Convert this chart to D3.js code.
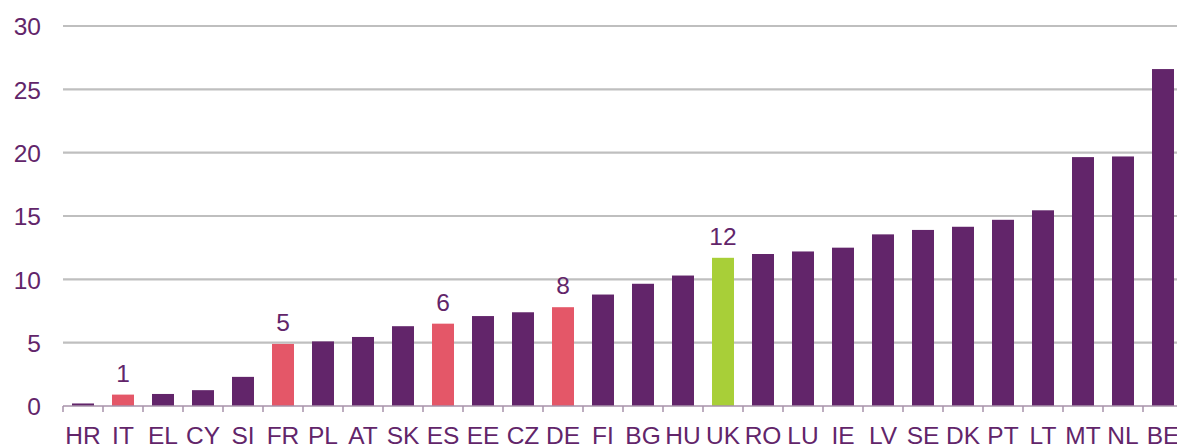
<!DOCTYPE html>
<html>
<head>
<meta charset="utf-8">
<script src="https://cdn.jsdelivr.net/npm/d3@7"></script>
<style>
  body { margin: 0; background: #fff; }
  .chart { width: 1177px; height: 445px; overflow: hidden; }
  text { font-family: "Liberation Sans", Arial, sans-serif; fill: #62256a; }
</style>
</head>
<body>
<div class="chart"></div>
<script>
const countries = ['HR', 'IT', 'EL', 'CY', 'SI', 'FR', 'PL', 'AT', 'SK', 'ES', 'EE', 'CZ', 'DE', 'FI',
    'BG', 'HU', 'UK', 'RO', 'LU', 'IE', 'LV', 'SE', 'DK', 'PT', 'LT', 'MT', 'NL', 'BE'];
const values = [0.2, 0.9, 0.95, 1.25, 2.3, 4.9, 5.1, 5.45, 6.3, 6.5, 7.1, 7.4, 7.8, 8.8,
    9.65, 10.3, 11.7, 12.0, 12.2, 12.5, 13.55, 13.9, 14.15, 14.7, 15.45, 19.65, 19.7, 26.6];
// pays mis en évidence et leur étiquette
const highlights = { IT: '1', FR: '5', ES: '6', DE: '8', UK: '12' };
const yTicks = [0, 5, 10, 15, 20, 25, 30];

const width = 1177;
const height = 445;
const margin = { left: 63, top: 26, bottom: 39 };
const fontSize = 24.5;

const purple = '#62256a';
const red = '#e45768';
const green = '#a8cf38';

const svg = d3.select('.chart')
    .append('svg')
    .attr('width', width)
    .attr('height', height);

const xScale = d3.scaleBand()
    .domain(countries)
    .range([margin.left, margin.left + countries.length * 40])
    .paddingInner(0.45)
    .paddingOuter(0.225);

const yScale = d3.scaleLinear()
    .domain([0, 30])
    .range([height - margin.bottom, margin.top]);

// lignes de grille
svg.append('g')
    .selectAll('line')
    .data(yTicks.slice(1))
    .enter()
    .append('line')
    .attr('x1', margin.left)
    .attr('x2', width)
    .attr('y1', d => yScale(d))
    .attr('y2', d => yScale(d))
    .attr('stroke', '#bfbfbf')
    .attr('stroke-width', 2.2);

// axe vertical, sans ligne
const yAxis = d3.axisLeft(yScale)
    .tickValues(yTicks)
    .tickSize(0)
    .tickPadding(0);

svg.append('g')
    .attr('transform', `translate(41, 0)`)
    .call(yAxis)
    .call(g => g.select('.domain').remove())
    .call(g => g.selectAll('text')
        .attr('font-size', fontSize)
        .attr('dy', '0.36em')
        .style('font-family', '"Liberation Sans", Arial, sans-serif')
        .attr('fill', purple));

// barres
svg.append('g')
    .selectAll('rect')
    .data(countries)
    .enter()
    .append('rect')
    .attr('x', d => xScale(d))
    .attr('y', (d, i) => yScale(values[i]))
    .attr('width', xScale.bandwidth())
    .attr('height', (d, i) => yScale(0) - yScale(values[i]))
    .attr('fill', d => d === 'UK' ? green : (highlights[d] ? red : purple));

// étiquettes de valeur
svg.append('g')
    .selectAll('text')
    .data(countries.filter(d => highlights[d]))
    .enter()
    .append('text')
    .attr('x', d => xScale(d) + xScale.bandwidth() / 2)
    .attr('y', d => yScale(values[countries.indexOf(d)]) - 13)
    .attr('text-anchor', 'middle')
    .attr('font-size', fontSize)
    .text(d => highlights[d]);

// axe horizontal avec petits traits entre les catégories
const y0 = yScale(0);
svg.append('line')
    .attr('x1', margin.left)
    .attr('x2', width)
    .attr('y1', y0)
    .attr('y2', y0)
    .attr('stroke', '#a792aa')
    .attr('stroke-width', 1.5);

const step = xScale.step();
svg.append('g')
    .selectAll('line')
    .data(d3.range(countries.length))
    .enter()
    .append('line')
    .attr('x1', i => margin.left + i * step)
    .attr('x2', i => margin.left + i * step)
    .attr('y1', y0)
    .attr('y2', y0 + 6)
    .attr('stroke', '#a792aa')
    .attr('stroke-width', 1.5);

svg.append('g')
    .selectAll('text')
    .data(countries)
    .enter()
    .append('text')
    .attr('x', d => xScale(d) + xScale.bandwidth() / 2)
    .attr('y', height - 1)
    .attr('text-anchor', 'middle')
    .attr('font-size', fontSize)
    .text(d => d);
</script>
</body>
</html>
